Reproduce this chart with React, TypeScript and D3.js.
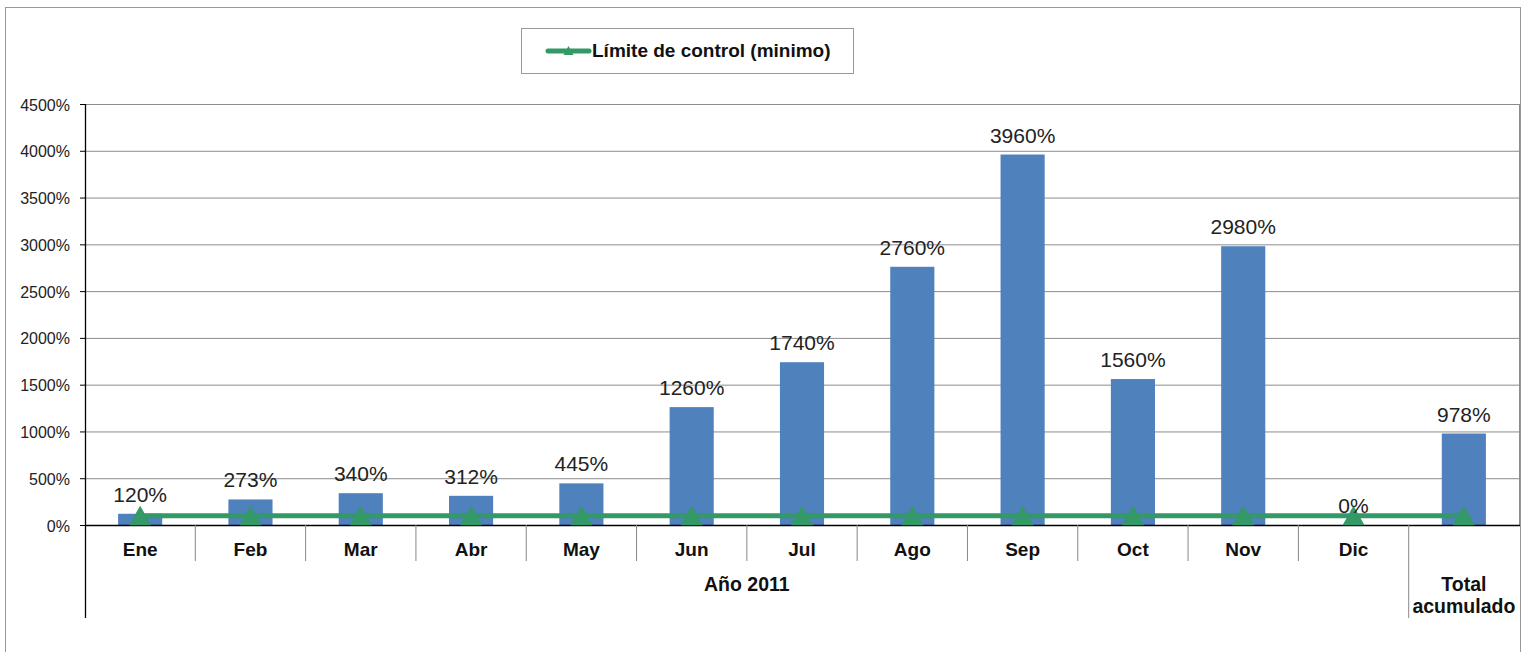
import React from "react";
import * as d3 from "d3";

const months = ["Ene", "Feb", "Mar", "Abr", "May", "Jun", "Jul", "Ago", "Sep", "Oct", "Nov", "Dic"];
const totalLabel = ["Total", "acumulado"];
const categories = [...months, "Total"];
const values = [120, 273, 340, 312, 445, 1260, 1740, 2760, 3960, 1560, 2980, 0, 978];
const limitValues = [100, 100, 100, 100, 100, 100, 100, 100, 100, 100, 100, 100, 100];
const yTicks = [0, 500, 1000, 1500, 2000, 2500, 3000, 3500, 4000, 4500];
const groupLabel = "Año 2011";
const legendLabel = "Límite de control (minimo)";

const W = 1536;
const H = 652;
const left = 85;
const right = 1519;
const top = 104;
const bottom = 525;
const FONT = "'Liberation Sans', Arial, sans-serif";
const BAR = "#4F81BD";
const GREEN = "#339966";

function triangle(cx: number, cy: number, hw: number, up: number, down: number) {
  const p = d3.path();
  p.moveTo(cx, cy - up);
  p.lineTo(cx + hw, cy + down);
  p.lineTo(cx - hw, cy + down);
  p.closePath();
  return p.toString();
}

export default function App() {
  const xStep = (right - left) / categories.length;
  const x = d3.scalePoint<string>().domain(categories).range([left + xStep / 2, right - xStep / 2]);
  const xc = (c: string) => x(c) as number;
  const y = d3.scaleLinear().domain([0, 4500]).range([bottom, top]);
  const bw = xStep * 0.4;
  const line = d3.line<number>().x((_, i) => xc(categories[i])).y((d) => y(d));

  return (
    <div style={{ position: "absolute", left: 0, top: 0 }}>
      <svg width={W} height={H} style={{ display: "block" }} fontFamily={FONT}>
        <rect x={0} y={0} width={W} height={H} fill="#fff" />
        <rect x={5.5} y={7.5} width={1515} height={660} fill="none" stroke="#999" strokeWidth={1} />
        {/* gridlines */}
        {yTicks.map((t) => (
          <g key={t}>
            {t > 0 && <line x1={left} x2={right} y1={y(t) + 0.5} y2={y(t) + 0.5} stroke="#8c8c8c" strokeWidth={1} />}
            <line x1={left - 5} x2={left} y1={y(t) + 0.5} y2={y(t) + 0.5} stroke="#000" />
            <text x={70} y={y(t) + 6.5} textAnchor="end" fontSize={16} fill="#222">{t}%</text>
          </g>
        ))}
        <line x1={right + 0.5} x2={right + 0.5} y1={top} y2={bottom} stroke="#8c8c8c" />
        {/* bars */}
        {values.map((v, i) => (
          <rect key={i} x={xc(categories[i]) - bw / 2} y={y(v)} width={bw} height={bottom - y(v)} fill={BAR} />
        ))}
        {/* axes */}
        <line x1={left + 0.5} x2={left + 0.5} y1={top} y2={618} stroke="#000" strokeWidth={1.3} />
        <line x1={left} x2={right + 1} y1={bottom + 0.5} y2={bottom + 0.5} stroke="#000" strokeWidth={1.5} />
        {categories.map((c, i) =>
          i === 0 ? null : (
            <line key={c} x1={left + i * xStep} x2={left + i * xStep} y1={bottom} y2={i === 12 ? 618 : 561} stroke="#888" />
          )
        )}
        {months.map((m) => (
          <text key={m} x={xc(m)} y={556} textAnchor="middle" fontSize={19} fontWeight="bold" fill="#111">{m}</text>
        ))}
        <text x={left + 6 * xStep} y={591} textAnchor="middle" fontSize={19.5} fontWeight="bold" fill="#111">{groupLabel}</text>
        {totalLabel.map((t, k) => (
          <text key={t} x={xc("Total")} y={591 + k * 22} textAnchor="middle" fontSize={19.5} fontWeight="bold" fill="#111">{t}</text>
        ))}
        {/* limit line */}
        <path d={line(limitValues) || ""} fill="none" stroke={GREEN} strokeWidth={5} />
        {limitValues.map((v, i) => (
          <path key={i} d={triangle(xc(categories[i]), y(v), 11, 10, 9.5)} fill={GREEN} />
        ))}
        {/* labels */}
        {values.map((v, i) => (
          <text key={i} x={xc(categories[i])} y={y(v) - 12} textAnchor="middle" fontSize={21} fill="#222">{v}%</text>
        ))}
        {/* legend */}
        <rect x={521.5} y={28.5} width={332} height={45} fill="#fff" stroke="#999" />
        <line x1={548} x2={589} y1={51} y2={51} stroke={GREEN} strokeWidth={5} strokeLinecap="round" />
        <path d={triangle(568.5, 51, 5, 5, 4)} fill={GREEN} />
        <text x={592} y={57} fontSize={19} fontWeight="bold" fill="#111">{legendLabel}</text>
      </svg>
    </div>
  );
}
